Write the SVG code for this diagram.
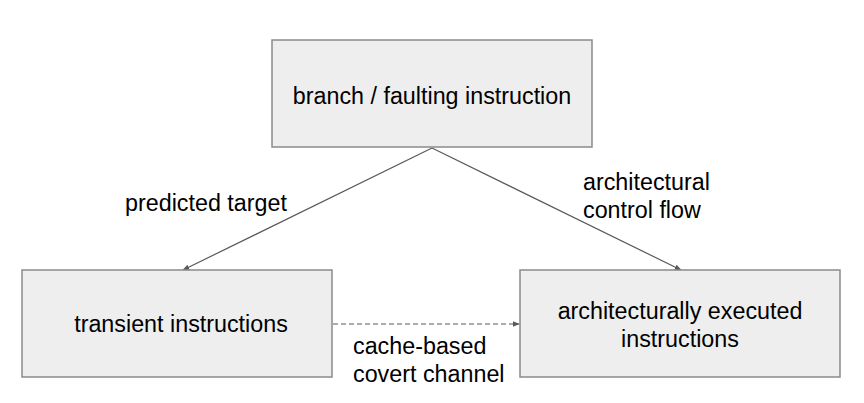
<svg xmlns="http://www.w3.org/2000/svg" width="864" height="403" viewBox="0 0 864 403">
<style>
.box{fill:#eeeeee;stroke:#8a8a8a;stroke-width:1.5}
.t{font-family:"Liberation Sans",Arial,sans-serif;font-size:23.3px;fill:#000}
.c{text-anchor:middle}
.ln{stroke:#595959;stroke-width:1.2;fill:none}
</style>
<defs>
<marker id="ah" viewBox="0 0 10 10" refX="9" refY="5" markerWidth="7" markerHeight="7" markerUnits="userSpaceOnUse" orient="auto">
<path d="M0,1 L10,5 L0,9 z" fill="#595959"/>
</marker>
</defs>
<rect width="864" height="403" fill="#fff"/>
<g id="connectors">
<line class="ln" x1="432" y1="148" x2="183" y2="270" marker-end="url(#ah)"/>
<line class="ln" x1="432" y1="148" x2="681" y2="270" marker-end="url(#ah)"/>
<line class="ln" x1="333" y1="324" x2="519" y2="324" stroke-dasharray="5,3" marker-end="url(#ah)"/>
<text class="t" x="125" y="211">predicted target</text>
<text class="t" x="583" y="190">architectural</text>
<text class="t" x="583" y="218">control flow</text>
<text class="t" x="353" y="354">cache-based</text>
<text class="t" x="353" y="382">covert channel</text>
</g>
<g id="branch">
<rect class="box" x="272" y="40" width="320" height="107"/>
<text class="t c" x="432" y="104">branch / faulting instruction</text>
</g>
<g id="transient">
<rect class="box" x="22" y="270" width="310" height="107"/>
<text class="t c" x="181" y="332">transient instructions</text>
</g>
<g id="executed">
<rect class="box" x="520" y="270" width="320" height="107"/>
<text class="t c" x="680" y="319">architecturally executed</text>
<text class="t c" x="680" y="347">instructions</text>
</g>
</svg>
